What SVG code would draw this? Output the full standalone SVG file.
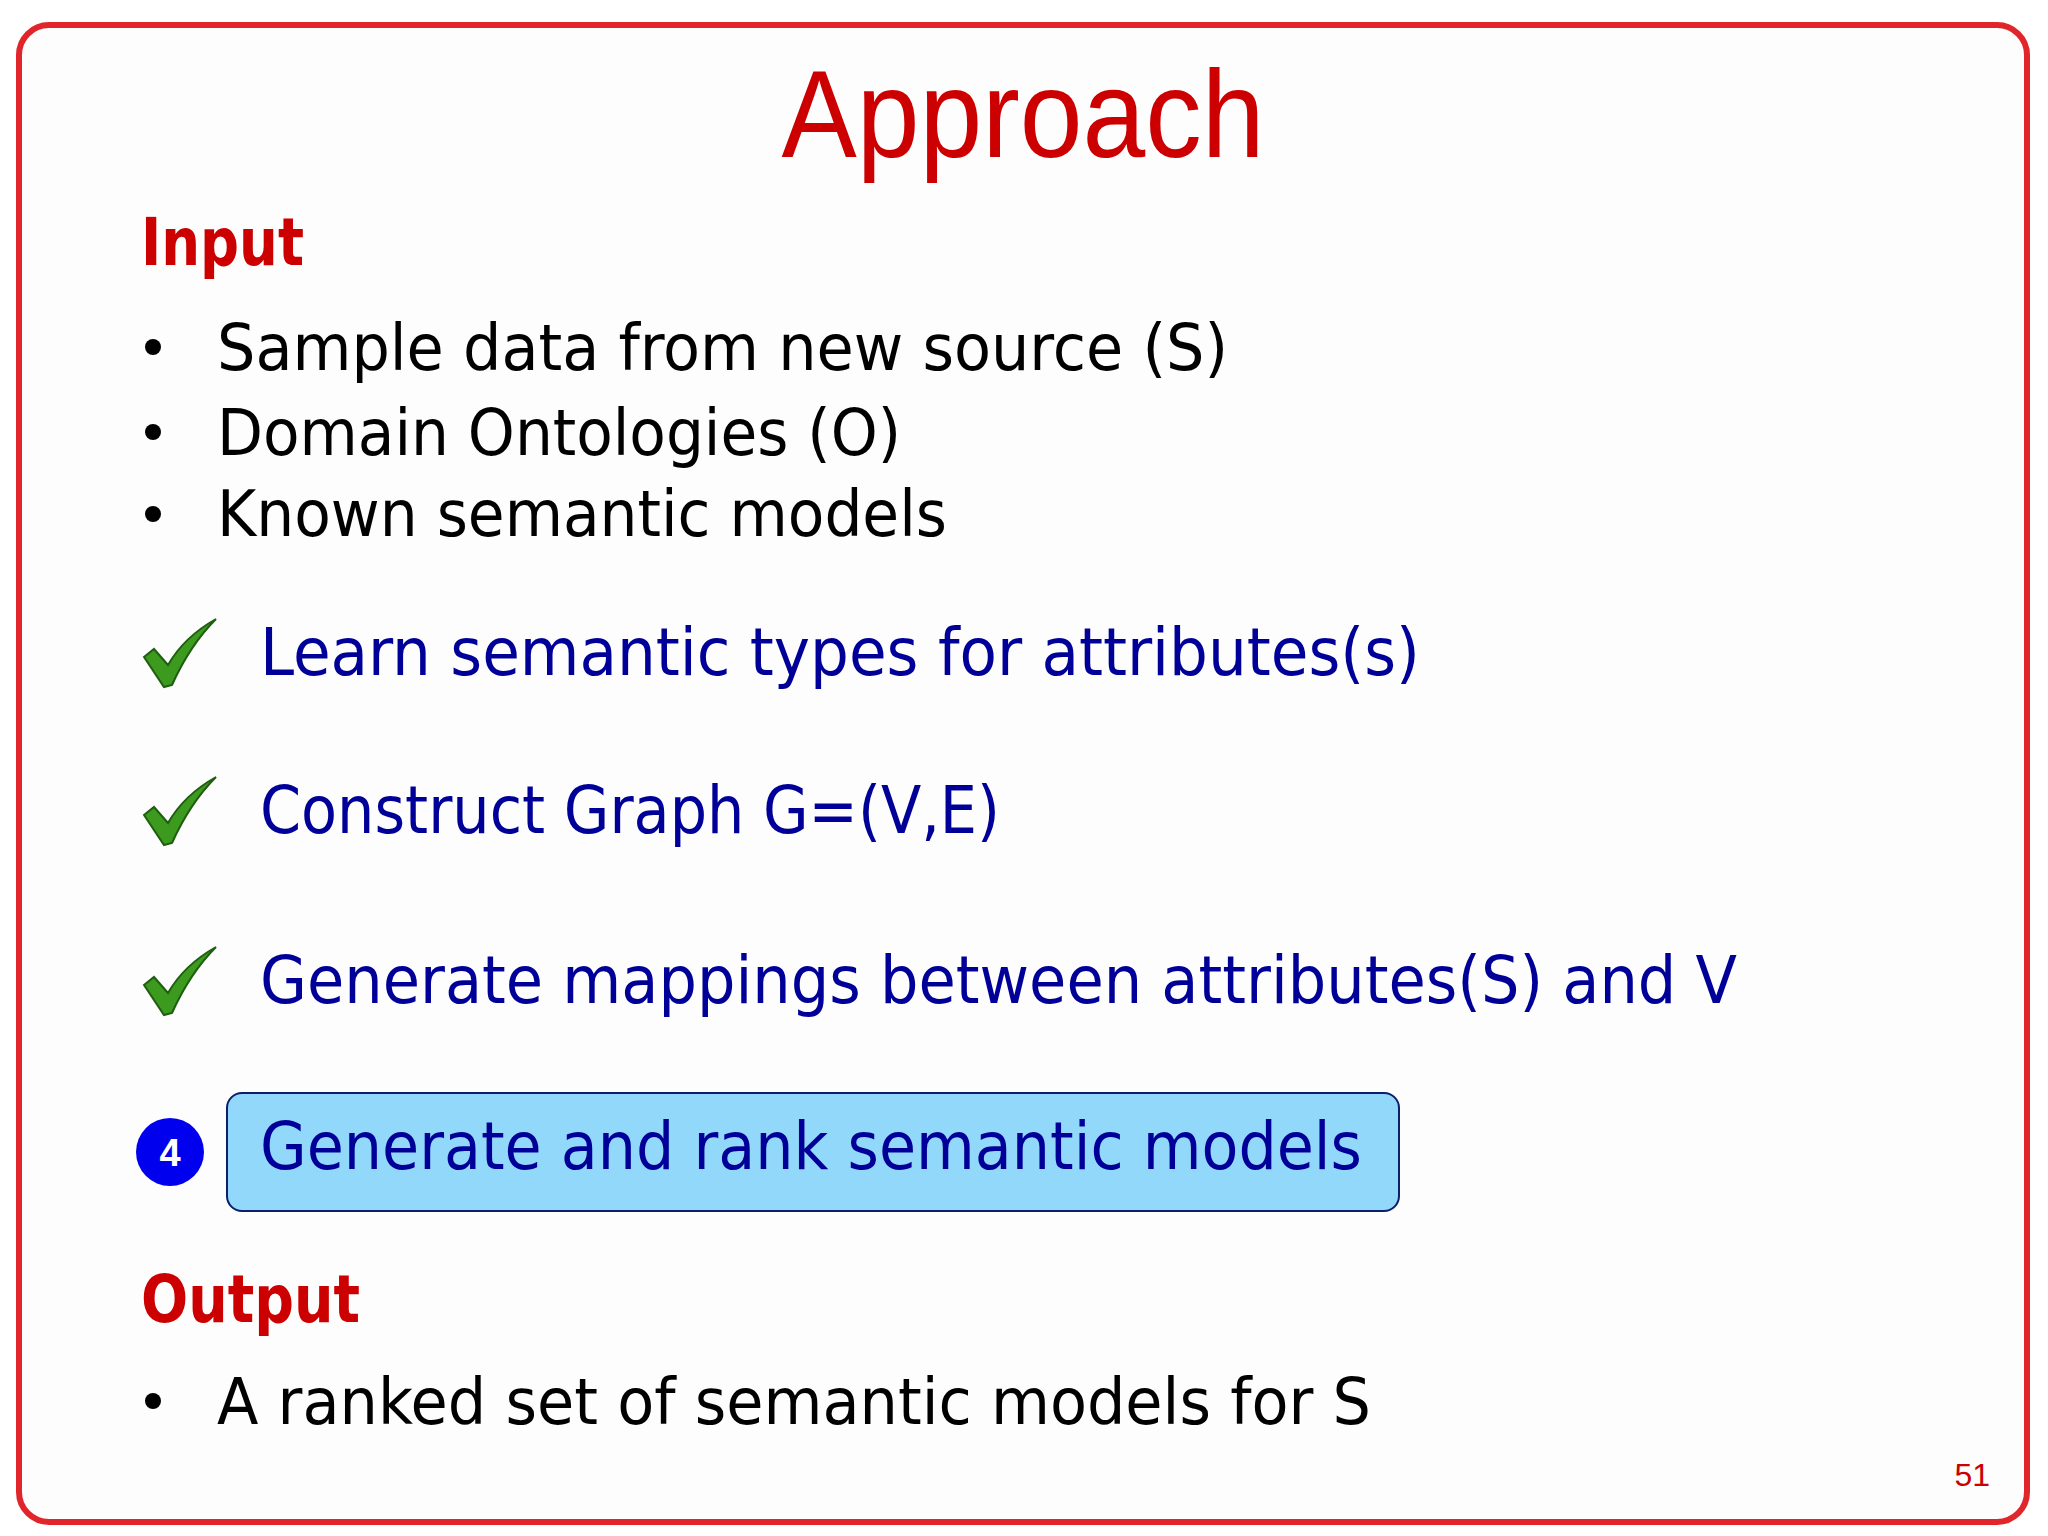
<svg xmlns="http://www.w3.org/2000/svg" width="2048" height="1536" viewBox="0 0 2048 1536">
<style>
.h{font-family:"DejaVu Sans Condensed","DejaVu Sans",sans-serif;font-weight:bold;fill:#cc0000;font-size:66px}
.b{font-family:"DejaVu Sans Condensed","DejaVu Sans",sans-serif;fill:#000;font-size:64px}
.s{font-family:"DejaVu Sans Condensed","DejaVu Sans",sans-serif;fill:#000099;font-size:66px}
.chk{fill:#3c9a1e;stroke:#1f5e10;stroke-width:2}
</style>
<rect width="2048" height="1536" fill="#fff"/>
<rect x="19" y="25" width="2008" height="1497" rx="30" fill="#fdfdfd" stroke="#e0262b" stroke-width="6"/>
<text x="1023" y="157" text-anchor="middle" font-family="Liberation Sans,Arial,sans-serif" font-size="124" fill="#cc0000" textLength="483" lengthAdjust="spacingAndGlyphs">Approach</text>
<g id="input">
<text class="h" x="141" y="265" textLength="163" lengthAdjust="spacingAndGlyphs">Input</text>
<circle cx="153" cy="347" r="8"/><text class="b" x="217" y="370" textLength="1011" lengthAdjust="spacingAndGlyphs">Sample data from new source (S)</text>
<circle cx="153" cy="432" r="8"/><text class="b" x="217" y="455" textLength="684" lengthAdjust="spacingAndGlyphs">Domain Ontologies (O)</text>
<circle cx="153" cy="514" r="8"/><text class="b" x="217" y="536" textLength="730" lengthAdjust="spacingAndGlyphs">Known semantic models</text>
</g>
<defs><path id="ck" d="M0,32 L10,24 L24,40 Q40,12 72,-6 Q46,20 28,60 L20,62 Z" class="chk"/></defs>
<g id="step1"><use href="#ck" x="144" y="625"/><text class="s" x="260" y="675" textLength="1160" lengthAdjust="spacingAndGlyphs">Learn semantic types for attributes(s)</text></g>
<g id="step2"><use href="#ck" x="144" y="783"/><text class="s" x="260" y="833" textLength="740" lengthAdjust="spacingAndGlyphs">Construct Graph G=(V,E)</text></g>
<g id="step3"><use href="#ck" x="144" y="953"/><text class="s" x="260" y="1003" textLength="1477" lengthAdjust="spacingAndGlyphs">Generate mappings between attributes(S) and V</text></g>
<g id="step4">
<rect x="227" y="1093" width="1172" height="118" rx="15" fill="#92d8fa" stroke="#0b1f6b" stroke-width="2"/>
<circle cx="170" cy="1152" r="34" fill="#0000ee"/>
<text x="170" y="1166" text-anchor="middle" font-family="Liberation Sans,Arial,sans-serif" font-weight="bold" font-size="38" fill="#fff">4</text>
<text class="s" x="260" y="1169" textLength="1102" lengthAdjust="spacingAndGlyphs">Generate and rank semantic models</text>
</g>
<g id="output">
<text class="h" x="141" y="1322" textLength="219" lengthAdjust="spacingAndGlyphs">Output</text>
<circle cx="153" cy="1401" r="8"/><text class="b" x="217" y="1424" textLength="1154" lengthAdjust="spacingAndGlyphs">A ranked set of semantic models for S</text>
</g>
<text x="1990" y="1486" text-anchor="end" font-family="Liberation Sans,Arial,sans-serif" font-size="32" fill="#cc0000">51</text>
<g id="connectors"/>
</svg>
